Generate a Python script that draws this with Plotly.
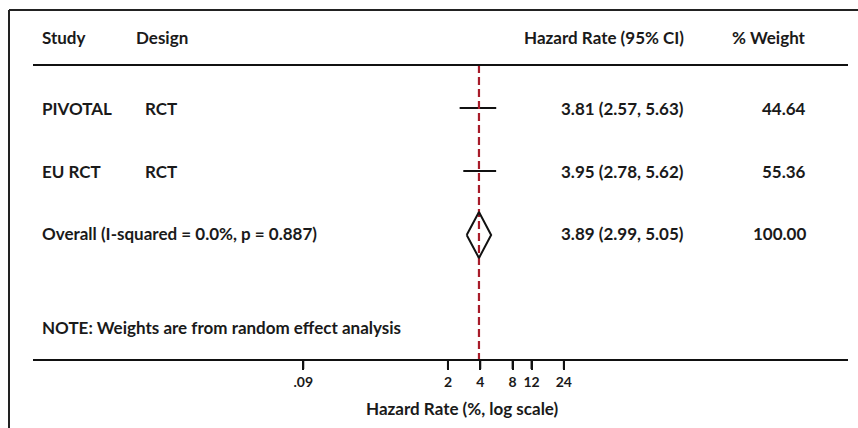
import plotly.graph_objects as go
import math

# ---- data ----
studies = ["PIVOTAL", "EU RCT"]
designs = ["RCT", "RCT"]
hazard_rate = [3.81, 3.95]
ci_low = [2.57, 2.78]
ci_high = [5.63, 5.62]
weights = [44.64, 55.36]

overall_label = "Overall (I-squared = 0.0%, p = 0.887)"
overall_rate = 3.89
overall_low = 2.99
overall_high = 5.05
overall_weight = 100.00

tick_vals = [0.09, 2, 4, 8, 12, 24]
tick_text = [".09", "2", "4", "8", "12", "24"]

# ---- layout constants (pixels) ----
W, H = 858, 428
row_y = [108, 171]
overall_y = 235
header_y = 37
note_y = 327
axis_y = 360
x_left, x_right = 33, 848
# log mapping: pixel = a + b*ln(v)
a, b = 415.6, 46.65
lo_log10 = ((x_left - a) / b) / math.log(10)
hi_log10 = ((x_right - a) / b) / math.log(10)

FONT = "Lato, Carlito, 'Open Sans', sans-serif"
TXT = "#1a1a1a"
FS = 17

fig = go.Figure()

# CI lines for studies
for i in range(len(studies)):
    fig.add_trace(go.Scatter(
        x=[ci_low[i], ci_high[i]], y=[row_y[i], row_y[i]],
        mode="lines", line=dict(color="#111111", width=2),
        hoverinfo="skip", showlegend=False))

# red dashed reference line at overall estimate
fig.add_trace(go.Scatter(
    x=[overall_rate, overall_rate], y=[65, axis_y],
    mode="lines", line=dict(color="#a81c2a", width=2.2, dash="8px,4px"),
    hoverinfo="skip", showlegend=False))

# overall diamond
fig.add_trace(go.Scatter(
    x=[overall_low, overall_rate, overall_high, overall_rate, overall_low],
    y=[overall_y, overall_y - 23, overall_y, overall_y + 23, overall_y],
    mode="lines", line=dict(color="#111111", width=2),
    hoverinfo="skip", showlegend=False))

# tick marks drawn explicitly at tick values
tx, ty = [], []
for v in tick_vals:
    tx += [v, v, None]
    ty += [axis_y, axis_y + 9, None]
fig.add_trace(go.Scatter(x=tx, y=ty, mode="lines",
                         line=dict(color="#111111", width=2),
                         hoverinfo="skip", showlegend=False))

def px(x):
    return x / W

ann = []
def add_text(text, x, y, anchor="left", size=FS):
    ann.append(dict(text=text, x=px(x), y=y, xref="paper", yref="y",
                    xanchor=anchor, yanchor="middle", showarrow=False,
                    font=dict(family=FONT, size=size, color=TXT)))

add_text("<b>Study</b>", 40, header_y)
add_text("<b>Design</b>", 134, header_y)
add_text("<b>Hazard Rate (95% CI)</b>", 686, header_y, "right")
add_text("<b>% Weight</b>", 808, header_y, "right")

for i in range(len(studies)):
    add_text(f"<b>{studies[i]}</b>", 40, row_y[i])
    add_text(f"<b>{designs[i]}</b>", 143, row_y[i])
    add_text(f"<b>{hazard_rate[i]:.2f} ({ci_low[i]:.2f}, {ci_high[i]:.2f})</b>", 686, row_y[i], "right")
    add_text(f"<b>{weights[i]:.2f}</b>", 808, row_y[i], "right")

add_text(f"<b>{overall_label}</b>", 40, overall_y - 2)
add_text(f"<b>{overall_rate:.2f} ({overall_low:.2f}, {overall_high:.2f})</b>", 686, overall_y - 2, "right")
add_text(f"<b>{overall_weight:.2f}</b>", 808, overall_y - 2, "right")
add_text("<b>NOTE: Weights are from random effect analysis</b>", 40, note_y)
add_text("<b>Hazard Rate (%, log scale)</b>", 462, 408, "center")

shapes = [
    dict(type="line", xref="paper", yref="y", x0=px(9), x1=1, y0=10, y1=10,
         line=dict(color="#222222", width=2)),
    dict(type="line", xref="paper", yref="y", x0=px(9), x1=px(9), y0=10, y1=H,
         line=dict(color="#222222", width=2)),
    dict(type="line", xref="paper", yref="y", x0=px(x_left), x1=px(x_right), y0=65, y1=65,
         line=dict(color="#111111", width=2)),
]

fig.update_layout(
    width=W, height=H,
    margin=dict(l=0, r=0, t=0, b=0),
    paper_bgcolor="white", plot_bgcolor="white",
    showlegend=False,
    annotations=ann, shapes=shapes,
    xaxis=dict(
        type="log", range=[lo_log10, hi_log10],
        domain=[x_left / W, x_right / W],
        anchor="free", position=(H - axis_y) / H,
        showline=True, linecolor="#111111", linewidth=2,
        ticks="outside", ticklen=9, tickwidth=2, tickcolor="#111111",
        tickvals=tick_vals, ticktext=tick_text,
        tickfont=dict(family=FONT, size=14, color=TXT, weight="bold"),
        showgrid=False, zeroline=False, fixedrange=True,
    ),
    yaxis=dict(range=[H, 0], domain=[0, 1], visible=False, fixedrange=True),
)

fig.write_html("out.html", config={"displayModeBar": False},
               post_script="document.body.style.margin='0';document.body.style.overflow='hidden';")
